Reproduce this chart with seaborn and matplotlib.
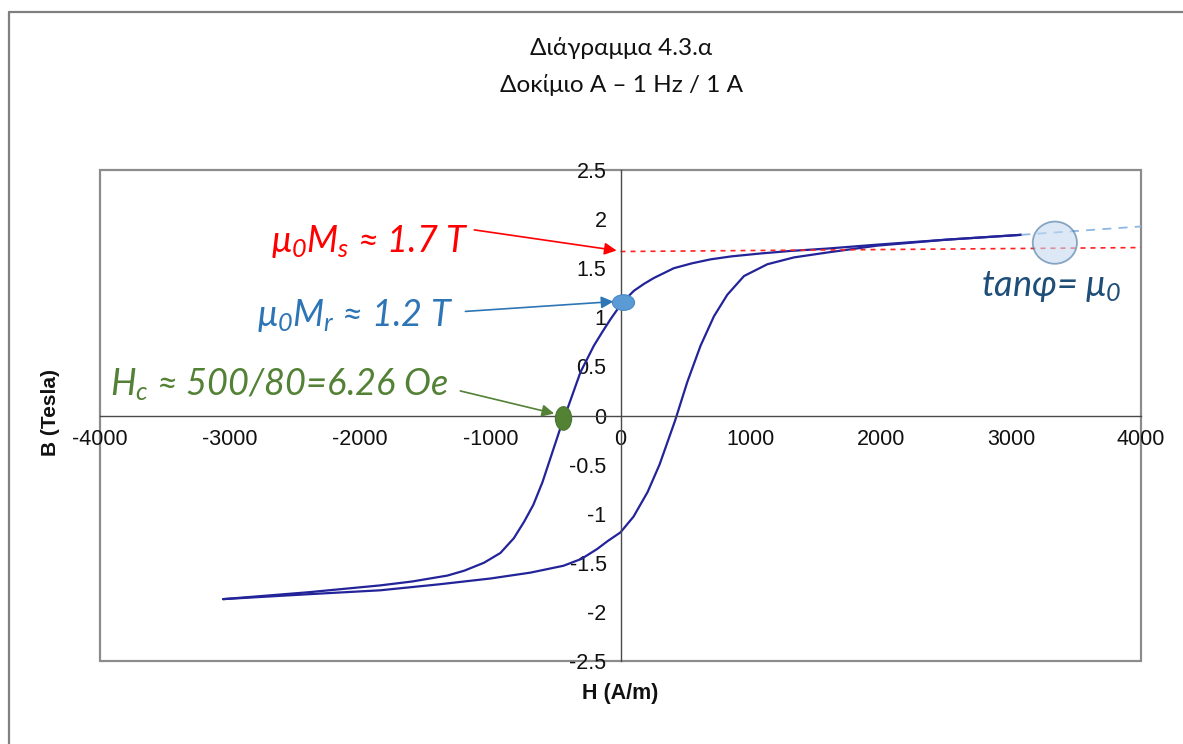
import numpy as np
import pandas as pd
import matplotlib
matplotlib.use("Agg")
import matplotlib.pyplot as plt
from matplotlib.patches import Ellipse, Rectangle
from matplotlib.lines import Line2D
from matplotlib.ticker import FuncFormatter
import seaborn as sns

# Hysteresis loop, descending branch (H from +Hmax to -Hmax)
h_down = [3080, 2500, 1974, 1590, 1300, 1077, 850, 692, 550, 410, 256, 180, 103, 13,
          -77, -140, -205, -308, -410, -460, -520, -600, -670, -740, -820, -923,
          -1050, -1200, -1330, -1600, -1846, -2400, -3054]
b_down = [1.84, 1.79, 1.74, 1.70, 1.675, 1.65, 1.62, 1.59, 1.55, 1.50, 1.40, 1.34, 1.27, 1.15,
          0.98, 0.85, 0.71, 0.44, 0.06, -0.12, -0.36, -0.68, -0.91, -1.08, -1.25, -1.40,
          -1.50, -1.58, -1.63, -1.69, -1.73, -1.80, -1.87]
# Ascending branch (H from -Hmax to +Hmax)
h_up = [-3054, -2400, -1846, -1400, -1000, -692, -438, -300, -180, -100, 0, 100, 208,
        300, 420, 513, 615, 718, 821, 949, 1128, 1333, 1590, 1974, 2500, 3080]
b_up = [-1.87, -1.82, -1.78, -1.72, -1.66, -1.60, -1.53, -1.46, -1.36, -1.28, -1.19, -1.03, -0.78,
        -0.50, -0.05, 0.34, 0.71, 1.01, 1.23, 1.42, 1.54, 1.61, 1.66, 1.73, 1.79, 1.84]

# Characteristic points
hr_point = [23, 1.15]      # remanence
hc_point = [-438, -0.03]   # coercive field
sat_level = [1.67, 1.71]   # saturation guide at H = 0 and H = 4000
slope_line_h = [3080, 4000]
slope_line_b = [1.84, 1.925]
tan_circle = [3338, 1.76]

x_ticks = list(range(-4000, 4001, 1000))
y_ticks = [-2.5, -2, -1.5, -1, -0.5, 0, 0.5, 1, 1.5, 2, 2.5]

df = pd.concat([
    pd.DataFrame({"H": h_down, "B": b_down, "branch": "down"}),
    pd.DataFrame({"H": h_up, "B": b_up, "branch": "up"}),
], ignore_index=True)

sns.set_style("white")
plt.rcParams["font.family"] = ["Liberation Sans", "DejaVu Sans"]
plt.rcParams["axes.unicode_minus"] = False
plt.rcParams["mathtext.fontset"] = "custom"
plt.rcParams["mathtext.it"] = "Lato:italic"
plt.rcParams["mathtext.rm"] = "Lato:italic"

fig = plt.figure(figsize=(11.83, 7.44), dpi=100)
ax = fig.add_axes([100 / 1183, 83 / 744, 1041 / 1183, 491 / 744])

sns.lineplot(data=df, x="H", y="B", units="branch", estimator=None, sort=False,
             color="#23239a", linewidth=1.6, ax=ax, legend=False)

ax.set_xlim(-4000, 4000)
ax.set_ylim(-2.5, 2.5)
ax.set_xticks(x_ticks)
ax.set_yticks(y_ticks)
ax.yaxis.set_major_formatter(FuncFormatter(lambda v, p: f"{v:g}"))
ax.xaxis.set_major_formatter(FuncFormatter(lambda v, p: f"{v:g}"))

for s in ["top", "right"]:
    ax.spines[s].set_visible(False)
ax.spines["left"].set_position(("data", 0))
ax.spines["bottom"].set_position(("data", 0))
for s in ["left", "bottom"]:
    ax.spines[s].set_color("#4a4a4a")
    ax.spines[s].set_linewidth(1.0)
ax.tick_params(axis="both", direction="out", length=5, width=1, color="#4a4a4a",
               labelsize=15.5, labelcolor="#111111")
ax.tick_params(axis="x", pad=5)
ax.tick_params(axis="y", pad=5)
ax.set_xlabel("")
ax.set_ylabel("")

# Plot-area frame
ax.add_patch(Rectangle((0, 0), 1, 1, transform=ax.transAxes, fill=False,
                       edgecolor="#8c8c8c", linewidth=1.6, clip_on=False, zorder=0))

# Saturation guide and slope guide
ax.plot([0, 4000], sat_level, linestyle=(0, (3, 3)), color="#ff2020", linewidth=1.2)
ax.plot(slope_line_h, slope_line_b, linestyle=(0, (5, 4)), color="#8db8e2", linewidth=1.3)

# Markers
ax.add_patch(Ellipse(tan_circle, width=340, height=0.43, facecolor="#c5d9f0", alpha=0.6,
                     edgecolor="#41719c", linewidth=1.3, zorder=5))
ax.add_patch(Ellipse(hr_point, width=170, height=0.16, facecolor="#5b9bd5",
                     edgecolor="#4a88c4", linewidth=0.8, zorder=6))
ax.add_patch(Ellipse(hc_point, width=125, height=0.24, facecolor="#548235",
                     edgecolor="#4a7530", linewidth=0.8, zorder=6))

ann_font = dict(family=["Lato", "DejaVu Sans"], style="italic", fontsize=26)

ax.text(-1169, 1.66, r"$\mu_0M_s$ ≈ 1.7 T", color="#ff0000", ha="right", va="baseline", **ann_font)
ax.annotate("", xy=(-30, 1.68), xytext=(-1123, 1.89),
            arrowprops=dict(arrowstyle="-|>", color="#ff0000", lw=1.2, mutation_scale=18,
                            shrinkA=0, shrinkB=0))

ax.text(-1285, 0.91, r"$\mu_0M_r$ ≈ 1.2 T", color="#2e75b6", ha="right", va="baseline", **ann_font)
ax.annotate("", xy=(-55, 1.16), xytext=(-1192, 1.06),
            arrowprops=dict(arrowstyle="-|>", color="#2e75b6", lw=1.2, mutation_scale=18,
                            shrinkA=0, shrinkB=0))

ax.text(-1323, 0.21, r"$H_c$ ≈ 500/80=6.26 Oe", color="#538135", ha="right", va="baseline", **ann_font)
ax.annotate("", xy=(-510, 0.02), xytext=(-1231, 0.25),
            arrowprops=dict(arrowstyle="-|>", color="#538135", lw=1.2, mutation_scale=18,
                            shrinkA=0, shrinkB=0))

ax.text(2769, 1.22, r"tanφ= $\mu_0$", color="#1f4e79", ha="left", va="baseline", **ann_font)

# Axis titles
fig.text(50 / 1183, 1 - 413 / 744, "B (Tesla)", rotation=90, ha="center", va="center",
         fontsize=15, fontweight="bold", color="#111111")
fig.text(620 / 1183, 1 - 693 / 744, "H (A/m)", ha="center", va="center",
         fontsize=15.5, fontweight="bold", color="#111111")

# Chart title
title_font = dict(family=["Lato", "Open Sans", "DejaVu Sans"], fontsize=17.5, color="#111111")
fig.text(621 / 1183, 1 - 48 / 744, "Διάγραμμα 4.3.α", ha="center", va="center", **title_font)
fig.text(621 / 1183, 1 - 85 / 744, "Δοκίμιο Α – 1 Hz / 1 A", ha="center", va="center", **title_font)

# Outer chart border
fig.add_artist(Line2D([9 / 1183, 9 / 1183], [0, 1 - 12 / 744], transform=fig.transFigure,
                      color="#808080", linewidth=1.6))
fig.add_artist(Line2D([9 / 1183, 1], [1 - 12 / 744, 1 - 12 / 744], transform=fig.transFigure,
                      color="#808080", linewidth=1.6))

fig.savefig("out.png", dpi=100)
